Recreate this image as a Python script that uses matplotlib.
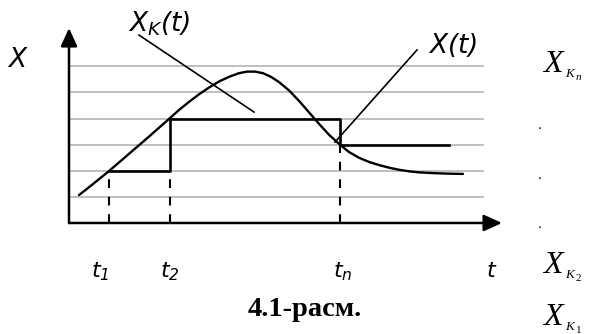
import numpy as np
import matplotlib
matplotlib.use("Agg")
import matplotlib.pyplot as plt

plt.rcParams["mathtext.fontset"] = "custom"
plt.rcParams["mathtext.rm"] = "DejaVu Sans:italic"
plt.rcParams["mathtext.it"] = "DejaVu Sans:italic"

# Quantization levels (grey grid lines)
levels = [1, 2, 3, 4, 5, 6]

# Sampling instants t1, t2, tn
t_marks = [4.0, 10.1, 27.1]
t_labels = ["$t_1$", "$t_2$", "$t_n$"]

# Quantized value X_K(t)
step_t = [4.0, 10.1, 10.1, 27.1, 27.1, 38.0]
step_x = [2, 2, 4, 4, 3, 3]

# Continuous signal X(t)
curve_t = [1.0, 2.0, 3.0, 4.0, 5.0, 6.0, 7.0, 8.0, 9.0, 10.1,
           11.0, 12.0, 13.0, 14.0, 15.0, 16.0, 17.0, 17.8, 18.6, 19.4,
           20.2, 21.0, 22.0, 23.0, 24.0, 25.0, 26.0, 27.1, 28.0, 29.0,
           30.0, 31.0, 32.0, 33.0, 34.0, 35.0, 36.5, 38.0, 39.4]
curve_x = [1.07, 1.37, 1.68, 1.99, 2.32, 2.65, 2.98, 3.31, 3.65, 4.02,
           4.33, 4.64, 4.93, 5.19, 5.42, 5.60, 5.74, 5.80, 5.80, 5.74,
           5.60, 5.40, 5.08, 4.68, 4.24, 3.80, 3.38, 3.00, 2.72, 2.50,
           2.34, 2.22, 2.12, 2.04, 1.98, 1.94, 1.91, 1.89, 1.88]

# Leader lines for the curve labels
xk_leader_t = [7.0, 18.5]
xk_leader_x = [7.20, 4.25]
x_leader_t = [26.6, 34.8]
x_leader_x = [3.10, 6.63]

# Right column labels
right_labels = [("n", True), ("2", False), ("1", False)]
right_x = [5.79, -1.92, -3.91]
dots_x = [3.62, 1.70, -0.21]

grid_end = 41.4
t_axis_end = 43.3
x_axis_end = 7.47

fig = plt.figure(figsize=(5.92, 3.34), dpi=100)
ax = fig.add_axes([0, 0, 1, 1])
ax.set_xlim(-6.9, 52.3)
ax.set_ylim(-4.253, 8.544)
ax.axis("off")

for lv in levels:
    ax.plot([0, grid_end], [lv, lv], color="#b4b4b4", lw=1.2, zorder=1)

# dashed projections to the time axis
for tm, lv in zip(t_marks, [2, 2, 3]):
    ax.plot([tm, tm], [0, lv], color="black", lw=1.5, dashes=(4.2, 4.2), zorder=2)

ax.plot(step_t, step_x, color="black", lw=1.9, zorder=3)
ax.plot(curve_t, curve_x, color="black", lw=1.7, zorder=4,
        solid_joinstyle="round", solid_capstyle="round")

ax.plot(xk_leader_t, xk_leader_x, color="black", lw=1.2, zorder=4)
ax.plot(x_leader_t, x_leader_x, color="black", lw=1.2, zorder=4)

# axes with arrows
arrow = dict(arrowstyle="-|>,head_length=1.1,head_width=0.5", color="black",
             lw=1.8, mutation_scale=10, shrinkA=0, shrinkB=0)
ax.annotate("", xy=(t_axis_end, 0), xytext=(0, 0), arrowprops=arrow, zorder=5)
ax.annotate("", xy=(0, x_axis_end), xytext=(0, 0), arrowprops=arrow, zorder=5)

# labels
ax.text(-6.1, 5.98, "X", fontsize=19, style="italic", ha="left", va="baseline")
ax.text(5.9, 7.32, "$X_K(t)$", fontsize=19, ha="left", va="baseline")
ax.text(35.9, 6.5, "$X(t)$", fontsize=19, ha="left", va="baseline")

label_pos = [3.1, 10.1, 27.4]
for pos, lab in zip(label_pos, t_labels):
    ax.text(pos, -2.07, lab, fontsize=16, ha="center", va="baseline")
ax.text(42.3, -2.07, "$t$", fontsize=16, ha="center", va="baseline")

ax.text(23.6, -3.56, "4.1-расм.", fontsize=20.5, fontweight="bold",
        family="Liberation Serif", ha="center", va="baseline")

for (sub, sub_it), yv in zip(right_labels, right_x):
    ax.text(47.4, yv, "X", fontsize=23, style="italic",
            family="Liberation Serif", ha="left", va="baseline")
    ax.annotate("K", xy=(47.4, yv), xytext=(16, -3.6),
                textcoords="offset points", fontsize=9.5, style="italic",
                family="Liberation Serif", ha="left", va="baseline")
    ax.annotate(sub, xy=(47.4, yv), xytext=(23.8, -5.5),
                textcoords="offset points", fontsize=8,
                style="italic" if sub_it else "normal",
                family="Liberation Serif", ha="left", va="baseline")

for yv in dots_x:
    ax.text(47.1, yv, ".", fontsize=11, family="Liberation Serif",
            ha="center", va="baseline")

fig.savefig("out.png", dpi=100)
